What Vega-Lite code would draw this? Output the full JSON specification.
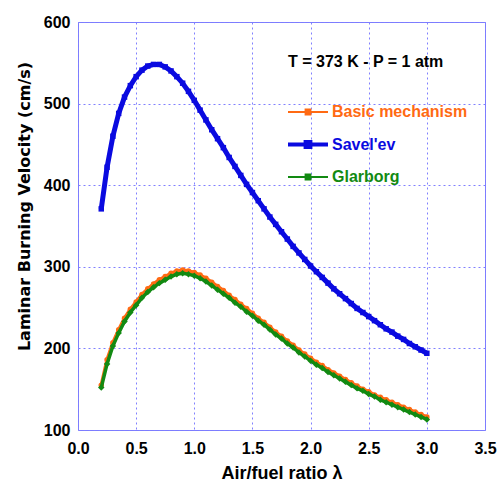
{
  "$schema": "https://vega.github.io/schema/vega-lite/v6.json",
  "width": 407,
  "height": 408,
  "autosize": {"type": "none"},
  "padding": {"left": 78, "top": 22, "right": 12, "bottom": 52},
  "background": "white",
  "config": {
    "font": "Liberation Sans",
    "view": {"stroke": "#7b7bff", "strokeWidth": 1},
    "axis": {
      "grid": true,
      "gridColor": "#8080ff",
      "gridDash": [2, 3],
      "gridWidth": 1,
      "domain": false,
      "ticks": false,
      "labelFont": "Liberation Sans",
      "labelFontWeight": "bold",
      "labelFontSize": 16,
      "labelColor": "black",
      "titleFont": "Liberation Sans",
      "titleFontWeight": "bold",
      "titleColor": "black"
    }
  },
  "data": {
    "values": [
      {"lambda": 0.20, "b": 155, "s": 371, "g": 152},
      {"lambda": 0.25, "b": 186, "s": 422, "g": 181},
      {"lambda": 0.30, "b": 207, "s": 460, "g": 203},
      {"lambda": 0.35, "b": 223, "s": 488, "g": 219},
      {"lambda": 0.40, "b": 237, "s": 508, "g": 233},
      {"lambda": 0.45, "b": 248, "s": 522, "g": 244},
      {"lambda": 0.50, "b": 257, "s": 533, "g": 253},
      {"lambda": 0.55, "b": 266, "s": 541, "g": 262},
      {"lambda": 0.60, "b": 273, "s": 546, "g": 269},
      {"lambda": 0.65, "b": 279, "s": 548, "g": 275},
      {"lambda": 0.70, "b": 284, "s": 548, "g": 280},
      {"lambda": 0.75, "b": 288, "s": 545, "g": 284},
      {"lambda": 0.80, "b": 292, "s": 540, "g": 288},
      {"lambda": 0.85, "b": 295, "s": 533, "g": 291},
      {"lambda": 0.90, "b": 296, "s": 525, "g": 292},
      {"lambda": 0.95, "b": 295, "s": 515, "g": 291},
      {"lambda": 1.00, "b": 293, "s": 504, "g": 289},
      {"lambda": 1.05, "b": 290, "s": 492, "g": 286},
      {"lambda": 1.10, "b": 286, "s": 480, "g": 282},
      {"lambda": 1.15, "b": 281, "s": 468, "g": 277},
      {"lambda": 1.20, "b": 276, "s": 457, "g": 272},
      {"lambda": 1.25, "b": 271, "s": 446, "g": 267},
      {"lambda": 1.30, "b": 265, "s": 434, "g": 262},
      {"lambda": 1.35, "b": 260, "s": 423, "g": 256},
      {"lambda": 1.40, "b": 254, "s": 412, "g": 251},
      {"lambda": 1.45, "b": 249, "s": 401, "g": 245},
      {"lambda": 1.50, "b": 243, "s": 391, "g": 240},
      {"lambda": 1.55, "b": 237, "s": 381, "g": 234},
      {"lambda": 1.60, "b": 232, "s": 371, "g": 229},
      {"lambda": 1.65, "b": 226, "s": 361, "g": 223},
      {"lambda": 1.70, "b": 220, "s": 352, "g": 217},
      {"lambda": 1.75, "b": 215, "s": 343, "g": 212},
      {"lambda": 1.80, "b": 209, "s": 334, "g": 206},
      {"lambda": 1.85, "b": 204, "s": 325, "g": 201},
      {"lambda": 1.90, "b": 198, "s": 317, "g": 195},
      {"lambda": 1.95, "b": 193, "s": 309, "g": 190},
      {"lambda": 2.00, "b": 188, "s": 301, "g": 185},
      {"lambda": 2.05, "b": 183, "s": 294, "g": 180},
      {"lambda": 2.10, "b": 179, "s": 287, "g": 176},
      {"lambda": 2.15, "b": 174, "s": 280, "g": 171},
      {"lambda": 2.20, "b": 170, "s": 273, "g": 167},
      {"lambda": 2.25, "b": 166, "s": 267, "g": 163},
      {"lambda": 2.30, "b": 162, "s": 261, "g": 159},
      {"lambda": 2.35, "b": 158, "s": 255, "g": 155},
      {"lambda": 2.40, "b": 154, "s": 249, "g": 151},
      {"lambda": 2.45, "b": 150, "s": 244, "g": 148},
      {"lambda": 2.50, "b": 147, "s": 239, "g": 144},
      {"lambda": 2.55, "b": 143, "s": 234, "g": 141},
      {"lambda": 2.60, "b": 140, "s": 229, "g": 137},
      {"lambda": 2.65, "b": 137, "s": 224, "g": 134},
      {"lambda": 2.70, "b": 134, "s": 220, "g": 131},
      {"lambda": 2.75, "b": 131, "s": 215, "g": 128},
      {"lambda": 2.80, "b": 128, "s": 211, "g": 125},
      {"lambda": 2.85, "b": 125, "s": 206, "g": 122},
      {"lambda": 2.90, "b": 122, "s": 202, "g": 119},
      {"lambda": 2.95, "b": 119, "s": 198, "g": 116},
      {"lambda": 3.00, "b": 116, "s": 194, "g": 113}
    ]
  },
  "transform": [
    {"fold": ["b", "s", "g"], "as": ["key", "velocity"]},
    {"lookup": "key", "from": {"data": {"values": [
      {"key": "b", "series": "Basic mechanism"},
      {"key": "s", "series": "Savel'ev"},
      {"key": "g", "series": "Glarborg"}
    ]}, "key": "key", "fields": ["series"]}}
  ],
  "encoding": {
    "x": {
      "field": "lambda", "type": "quantitative",
      "scale": {"domain": [0, 3.5], "nice": false, "zero": false},
      "axis": {"values": [0, 0.5, 1, 1.5, 2, 2.5, 3, 3.5], "title": "Air/fuel ratio λ", "titleFontSize": 18, "labelPadding": 10, "titlePadding": 8, "labelFlush": false}
    },
    "y": {
      "field": "velocity", "type": "quantitative",
      "scale": {"domain": [100, 600], "nice": false, "zero": false},
      "axis": {"values": [100, 200, 300, 400, 500, 600], "title": "Laminar Burning Velocity (cm/s)", "titleFont": "DejaVu Sans", "titleFontSize": 16, "titleY": 184, "labelPadding": 8, "titlePadding": 11, "labelFlush": false}
    },
    "color": {
      "field": "series", "type": "nominal",
      "sort": ["Basic mechanism", "Savel'ev", "Glarborg"],
      "scale": {"domain": ["Basic mechanism", "Savel'ev", "Glarborg"], "range": ["#ff6a13", "#0a0ae0", "#128a12"]},
      "legend": {
        "orient": "none",
        "legendX": 210,
        "legendY": 32,
        "title": "T = 373 K - P = 1 atm",
        "titleFont": "Liberation Sans",
        "titleFontSize": 16,
        "titleFontWeight": "bold",
        "titleColor": "black",
        "titlePadding": 34,
        "labelFont": "Liberation Sans",
        "labelFontSize": 16,
        "labelFontWeight": "bold",
        "labelOffset": 16,
        "symbolOffset": 12,
        "rowPadding": 13.5,
        "symbolType": "M-1,0H1M-0.12,-0.12H0.12V0.12H-0.12Z",
        "symbolSize": 1600,
        "symbolStrokeWidth": 2,
        "encode": {
          "labels": {"update": {"fill": {"signal": "datum.label == 'Basic mechanism' ? '#ff6a13' : datum.label == 'Glarborg' ? '#128a12' : '#0a0ae0'"}}},
          "symbols": {"update": {
            "strokeWidth": {"signal": "datum.label == \"Savel'ev\" ? 4 : 2"}
          }}
        }
      }
    }
  },
  "layer": [
    {
      "transform": [{"filter": "datum.key == 'b'"}],
      "mark": {"type": "line", "strokeWidth": 3.5}
    },
    {
      "transform": [{"filter": "datum.key == 'b'"}],
      "mark": {"type": "point", "filled": true, "opacity": 1, "shape": "circle", "size": 30}
    },
    {
      "transform": [{"filter": "datum.key == 's'"}],
      "mark": {"type": "line", "strokeWidth": 5}
    },
    {
      "transform": [{"filter": "datum.key == 's'"}],
      "mark": {"type": "point", "filled": true, "opacity": 1, "shape": "square", "size": 30}
    },
    {
      "transform": [{"filter": "datum.key == 'g'"}],
      "mark": {"type": "line", "strokeWidth": 3.5}
    },
    {
      "transform": [{"filter": "datum.key == 'g'"}],
      "mark": {"type": "point", "filled": true, "opacity": 1, "shape": "diamond", "size": 42}
    }
  ]
}
